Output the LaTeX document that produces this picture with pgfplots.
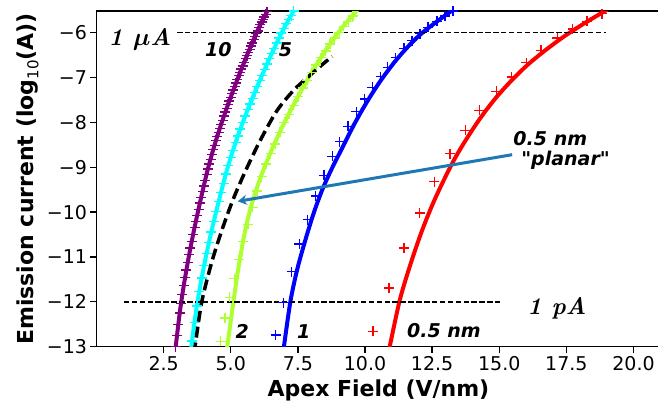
\documentclass[border=0pt]{standalone}
\usepackage{fontspec}
\usepackage{pgfplots}
\pgfplotsset{compat=1.18}
\usetikzlibrary{arrows.meta}
\newfontfamily\djs{DejaVu Sans}
\newcommand{\tk}{\djs\fontsize{19}{22}\selectfont}
\newcommand{\an}{\djs\bfseries\itshape\fontsize{19}{22}\selectfont}
\newcommand{\bigann}{\rmfamily\bfseries\itshape\fontsize{24}{28}\selectfont}
\definecolor{mplpurple}{HTML}{800080}
\definecolor{mplcyan}{HTML}{00FFFF}
\definecolor{mplgreen}{HTML}{ADFF2F}
\definecolor{mplblue}{HTML}{0000FF}
\definecolor{mplred}{HTML}{FF0000}
\definecolor{arrowc}{HTML}{1F77B4}
\begin{document}
\begin{tikzpicture}
\clip (-96.5pt,-56.3pt) rectangle (561.5pt,346.7pt);
\begin{axis}[
  scale only axis, width=563.85pt, height=335.55pt,
  xmin=0, xmax=21, ymin=-13, ymax=-5.52,
  axis line style={line width=1.3pt},
  every tick/.style={line width=1.3pt, black},
  tick align=outside, major tick length=6pt,
  xtick pos=left, ytick pos=left,
  xtick={2.5,5,7.5,10,12.5,15,17.5,20},
  xticklabels={2.5,5.0,7.5,10.0,12.5,15.0,17.5,20.0},
  ytick={-13,-12,-11,-10,-9,-8,-7,-6},
  yticklabels={−13,−12,−11,−10,−9,−8,−7,−6},
  ticklabel style={font=\tk},
  xlabel={\djs\bfseries\fontsize{22}{26}\selectfont Apex Field (V/nm)},
  xlabel style={at={(axis description cs:0.5,0)}, anchor=base, yshift=-50pt},
  ylabel={\djs\bfseries\fontsize{22}{26}\selectfont Emission current (log\raisebox{-0.22em}{\mdseries\fontsize{15}{15}\selectfont 10}(A))},
  ylabel style={at={(axis description cs:-0.1117,0.5)}, anchor=base},
  mark size=5pt,
]
% purple (10)
\addplot[mplpurple, only marks, mark=+, mark options={line width=1.3pt}] coordinates {
(2.90,-13.25)(2.95,-13.00)(3.00,-12.75)(3.05,-12.50)(3.10,-12.25)(3.15,-12.04)(3.20,-11.84)(3.25,-11.64)(3.30,-11.46)
(3.35,-11.29)(3.40,-11.12)(3.45,-10.95)(3.50,-10.80)(3.55,-10.65)(3.60,-10.50)(3.65,-10.35)(3.70,-10.21)(3.75,-10.08)
(3.80,-9.94)(3.85,-9.80)(3.90,-9.67)(3.95,-9.54)(4.00,-9.42)(4.05,-9.29)(4.10,-9.16)(4.15,-9.04)(4.20,-8.93)(4.25,-8.82)
(4.30,-8.72)(4.35,-8.61)(4.40,-8.51)(4.45,-8.40)(4.50,-8.31)(4.55,-8.22)(4.60,-8.13)(4.65,-8.04)(4.70,-7.95)(4.75,-7.86)
(4.80,-7.77)(4.85,-7.69)(4.90,-7.60)(4.95,-7.52)(5.00,-7.44)(5.05,-7.36)(5.10,-7.28)(5.15,-7.20)(5.20,-7.12)(5.25,-7.04)
(5.30,-6.96)(5.35,-6.89)(5.40,-6.81)(5.45,-6.74)(5.50,-6.66)(5.55,-6.58)(5.60,-6.51)(5.65,-6.44)(5.70,-6.37)(5.75,-6.30)
(5.80,-6.23)(5.85,-6.15)(5.90,-6.09)(5.95,-6.02)(6.00,-5.96)(6.05,-5.89)(6.10,-5.82)(6.15,-5.76)(6.20,-5.71)(6.25,-5.65)
(6.30,-5.59)(6.35,-5.53)(6.40,-5.47)};
\addplot[mplpurple, line width=4pt, smooth, no marks] coordinates {
(2.93,-13.15)(2.95,-13.0)(3.11,-12.2)(3.26,-11.6)(3.46,-10.92)(3.66,-10.32)(3.91,-9.64)(4.16,-9.01)(4.46,-8.38)(4.81,-7.75)
(5.21,-7.1)(5.56,-6.57)(5.86,-6.14)(6.11,-5.81)(6.36,-5.52)(6.45,-5.42)};
% cyan (5)
\addplot[mplcyan, only marks, mark=+, mark options={line width=1.3pt}] coordinates {
(3.47,-13.27)(3.56,-12.87)(3.65,-12.46)(3.74,-12.09)(3.83,-11.77)(3.92,-11.47)(4.01,-11.19)(4.10,-10.92)(4.19,-10.68)
(4.28,-10.44)(4.37,-10.21)(4.46,-9.99)(4.55,-9.77)(4.64,-9.56)(4.73,-9.36)(4.82,-9.15)(4.91,-8.96)(5.00,-8.79)(5.09,-8.62)
(5.18,-8.45)(5.27,-8.30)(5.36,-8.15)(5.45,-8.01)(5.54,-7.86)(5.63,-7.72)(5.72,-7.59)(5.81,-7.46)(5.90,-7.33)(5.99,-7.20)
(6.08,-7.07)(6.17,-6.95)(6.26,-6.82)(6.35,-6.70)(6.44,-6.58)(6.53,-6.47)(6.62,-6.35)(6.71,-6.23)(6.80,-6.12)(6.89,-6.01)
(6.98,-5.91)(7.07,-5.80)(7.16,-5.71)(7.25,-5.62)(7.34,-5.52)(7.43,-5.42)};
\addplot[mplcyan, line width=4pt, smooth, no marks] coordinates {
(3.51,-13.15)(3.53,-13.0)(3.709,-12.2)(3.877,-11.6)(4.10,-10.92)(4.324,-10.32)(4.603,-9.64)(4.883,-9.01)(5.218,-8.38)
(5.609,-7.75)(6.057,-7.1)(6.448,-6.57)(6.783,-6.14)(7.063,-5.81)(7.342,-5.52)(7.44,-5.42)};
% green (2)
\addplot[mplgreen, only marks, mark=+, mark options={line width=1.3pt}] coordinates {
(4.45,-13.45)(4.62,-12.88)(4.79,-12.36)(4.96,-11.90)(5.13,-11.48)(5.30,-11.06)(5.47,-10.66)(5.64,-10.27)(5.81,-9.89)
(5.98,-9.53)(6.15,-9.21)(6.32,-8.93)(6.49,-8.70)(6.66,-8.48)(6.83,-8.22)(7.00,-8.00)(7.17,-7.82)(7.34,-7.62)(7.51,-7.43)
(7.68,-7.23)(7.85,-7.06)(8.02,-6.88)(8.19,-6.72)(8.36,-6.56)(8.53,-6.41)(8.70,-6.25)(8.87,-6.12)(9.04,-5.99)(9.21,-5.86)
(9.38,-5.75)(9.55,-5.63)(9.72,-5.51)(9.89,-5.39)};
\addplot[mplgreen, line width=4pt, smooth, no marks] coordinates {
(4.84,-13.15)(4.87,-13.0)(5.10,-12.0)(5.27,-11.3)(5.49,-10.55)(5.70,-10.0)(5.95,-9.5)(6.25,-9.01)(6.60,-8.51)(7.00,-8.0)
(7.50,-7.43)(8.10,-6.8)(8.70,-6.25)(9.20,-5.85)(9.85,-5.40)};
% black dashed
\addplot[black, line width=3.5pt, dash pattern=on 11pt off 5pt, smooth, no marks] coordinates {
(3.64,-13.15)(3.67,-13.0)(3.92,-12.0)(4.3,-11.1)(4.7,-10.35)(5.1,-9.7)(5.55,-9.08)(6.1,-8.4)(6.72,-7.74)(7.35,-7.28)
(7.97,-6.94)(8.47,-6.68)(8.78,-6.53)};
% blue (1)
\addplot[mplblue, only marks, mark=+, mark options={line width=1.3pt}] coordinates {
(6.67,-12.74)(6.96,-12.02)(7.27,-11.33)(7.56,-10.71)(7.86,-10.17)(8.16,-9.64)(8.47,-9.18)(8.78,-8.76)(9.06,-8.43)
(9.37,-8.09)(9.68,-7.76)(9.99,-7.48)(10.27,-7.22)(10.58,-6.98)(10.85,-6.77)(11.14,-6.56)(11.45,-6.35)(11.75,-6.18)
(12.05,-6.02)(12.35,-5.88)(12.68,-5.75)(12.98,-5.63)(13.28,-5.52)};
\addplot[mplblue, line width=4pt, smooth, no marks] coordinates {
(6.95,-13.15)(6.98,-13.0)(7.22,-12.0)(7.47,-11.29)(7.78,-10.62)(8.09,-10.02)(8.41,-9.5)(8.74,-9.06)(9.1,-8.63)(9.6,-8.04)
(10.1,-7.515)(10.6,-7.055)(11.1,-6.655)(11.65,-6.28)(12.2,-5.97)(13.25,-5.50)(13.4,-5.44)};
% red (0.5 nm)
\addplot[mplred, only marks, mark=+, mark options={line width=1.3pt}] coordinates {
(10.30,-12.66)(10.89,-11.69)(11.45,-10.80)(12.03,-10.02)(12.58,-9.32)(13.16,-8.70)(13.74,-8.18)(14.26,-7.73)
(14.89,-7.31)(15.46,-6.99)(16.01,-6.67)(16.56,-6.39)(17.16,-6.12)(17.74,-5.92)(18.27,-5.75)(18.83,-5.58)};
\addplot[mplred, line width=4pt, smooth, no marks] coordinates {
(10.87,-13.15)(10.92,-13.0)(11.30,-11.95)(11.70,-11.15)(12.10,-10.45)(12.50,-9.85)(12.90,-9.33)(13.35,-8.80)(13.80,-8.35)
(14.30,-7.90)(14.85,-7.47)(15.45,-7.07)(16.05,-6.72)(16.70,-6.40)(17.40,-6.09)(18.20,-5.78)(19.07,-5.47)};
% reference lines
\addplot[black, line width=1.5pt, dash pattern=on 5.5pt off 2.4pt, no marks] coordinates {(3.0,-6) (18.96,-6)};
\addplot[black, line width=1.5pt, dash pattern=on 5.5pt off 2.4pt, no marks] coordinates {(1.02,-12) (15.02,-12)};
% arrow
\addplot[arrowc, line width=3pt, no marks, -{Stealth[length=9pt,width=10pt]}] coordinates {(15.48,-8.72) (5.26,-9.76)};
% labels
\node at (axis cs:1.62,-6.14) {\bigann 1 {\boldmath$\mu$}A};
\node at (axis cs:17.15,-12.14) {\bigann 1 pA};
\node at (axis cs:4.54,-6.37) {\an 10};
\node at (axis cs:7.04,-6.37) {\an 5};
\node at (axis cs:5.43,-12.66) {\an 2};
\node at (axis cs:7.72,-12.66) {\an 1};
\node at (axis cs:12.94,-12.64) {\an 0.5 nm};
\node at (axis cs:16.9,-8.35) {\an 0.5 nm};
\node at (axis cs:17.47,-8.84) {\an "planar"};
\end{axis}
\end{tikzpicture}
\end{document}
